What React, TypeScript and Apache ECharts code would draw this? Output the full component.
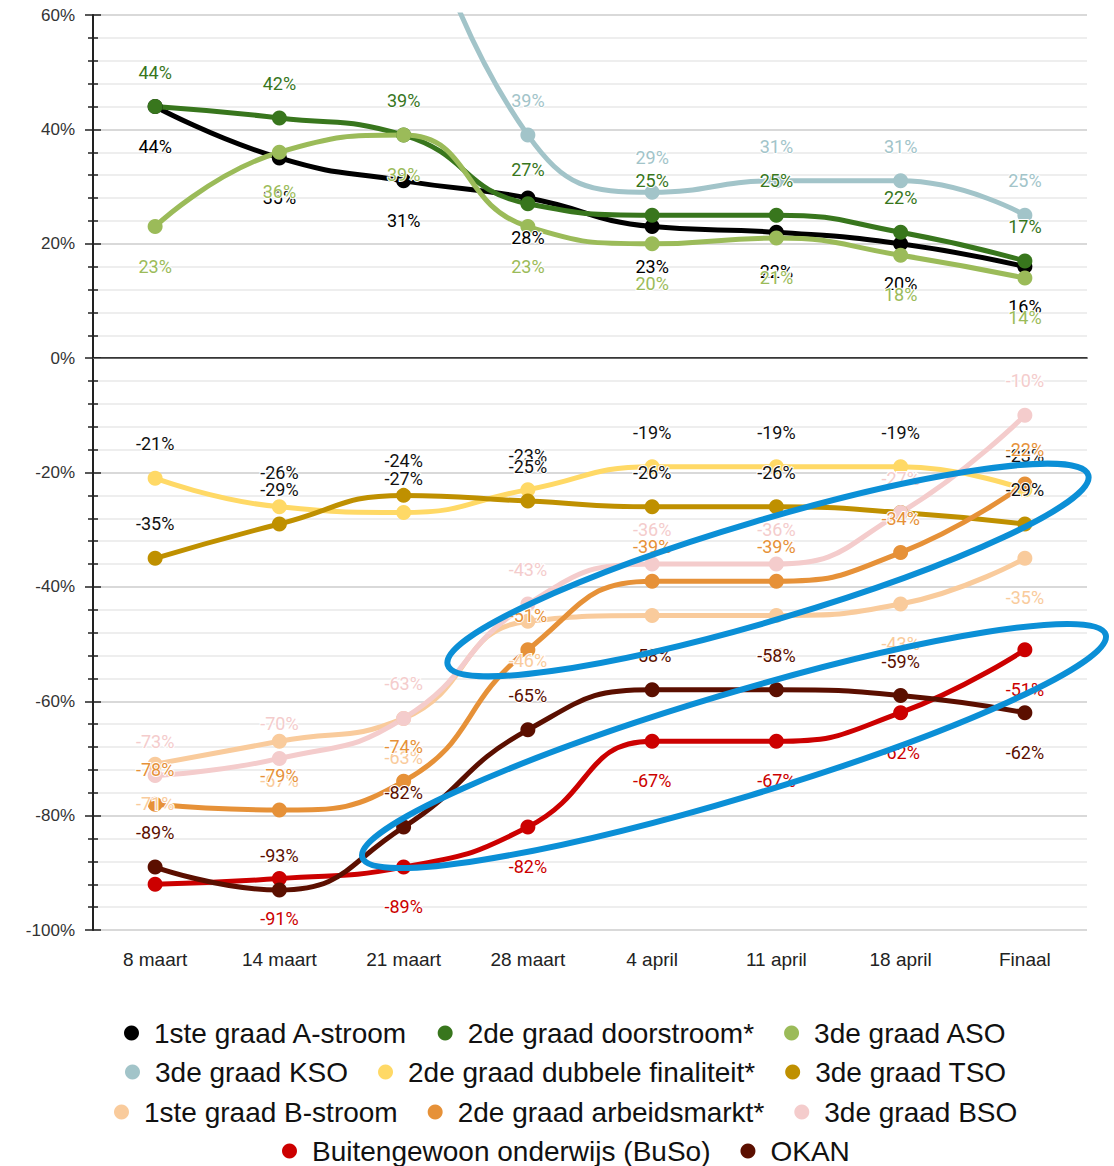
import React, { useEffect, useRef } from "react";
import * as echarts from "echarts";

const categories = ["8 maart", "14 maart", "21 maart", "28 maart", "4 april", "11 april", "18 april", "Finaal"];

const seriesNames = [
  "1ste graad A-stroom",
  "2de graad doorstroom*",
  "3de graad ASO",
  "3de graad KSO",
  "2de graad dubbele finaliteit*",
  "3de graad TSO",
  "1ste graad B-stroom",
  "2de graad arbeidsmarkt*",
  "3de graad BSO",
  "Buitengewoon onderwijs (BuSo)",
  "OKAN",
];

const aStroom = [44, 35, 31, 28, 23, 22, 20, 16];
const doorstroom = [44, 42, 39, 27, 25, 25, 22, 17];
const aso = [23, 36, 39, 23, 20, 21, 18, 14];
const kso = [null, null, 90, 39, 29, 31, 31, 25];
const dubbele = [-21, -26, -27, -23, -19, -19, -19, -23];
const tso = [-35, -29, -24, -25, -26, -26, -27, -29];
const bStroom = [-71, -67, -63, -46, -45, -45, -43, -35];
const arbeidsmarkt = [-78, -79, -74, -51, -39, -39, -34, -22];
const bso = [-73, -70, -63, -43, -36, -36, -27, -10];
const buso = [-92, -91, -89, -82, -67, -67, -62, -51];
const okan = [-89, -93, -82, -65, -58, -58, -59, -62];

const seriesData = [aStroom, doorstroom, aso, kso, dubbele, tso, bStroom, arbeidsmarkt, bso, buso, okan];

const colors = ["#000000", "#38761d", "#9bbb59", "#a2c4c9", "#ffd966", "#bf9000", "#f9cb9c", "#e69138", "#f4cccc", "#cc0000", "#5b0f00"];
const labelColors = ["#000000", "#38761d", "#9bbb59", "#a2c4c9", "#111111", "#111111", "#f9cb9c", "#e69138", "#f4cccc", "#cc0000", "#5b0f00"];
const labelSides = ["bottom", "top", "bottom", "top", "top", "top", "bottom", "top", "top", "bottom", "top"];
// per-point overrides: [seriesIndex, pointIndex, side or "hide"]
const labelOverrides: [number, number, string][] = [
  [10, 7, "bottom"],
  [9, 0, "hide"],
  [3, 2, "hide"],
];

const legendRows = [[0, 1, 2], [3, 4, 5], [6, 7, 8], [9, 10]];
const yTicks = { min: -100, max: 60, interval: 20 };

const LEGEND_FONT = "'Liberation Sans', Arial, sans-serif";
const LEGEND_SIZE = 28;
const ICON = 15;
const TEXT_PAD = 10;
const ITEM_GAP = 30;
const LEGEND_CENTER_X = 566;

function labelFor(side: string) {
  return { position: side, distance: side === "top" ? 17 : 22 };
}

function measureRow(names: string[]) {
  const canvas = document.createElement("canvas");
  const ctx = canvas.getContext("2d");
  if (!ctx) return 0;
  ctx.font = `${LEGEND_SIZE}px ${LEGEND_FONT}`;
  let w = 0;
  names.forEach((n, k) => {
    w += ICON + 5 + TEXT_PAD + ctx.measureText(n).width;
    if (k > 0) w += ITEM_GAP;
  });
  return w;
}

export default function App() {
  const ref = useRef<HTMLDivElement>(null);
  useEffect(() => {
    if (!ref.current) return;
    const chart = echarts.init(ref.current, undefined, { renderer: "svg" });

    const series: any[] = seriesNames.map((name, i) => {
      const data = seriesData[i].map((v, j) => {
        if (v === null) return null;
        const ov = labelOverrides.find((o) => o[0] === i && o[1] === j);
        if (!ov) return v;
        if (ov[2] === "hide") return { value: v, label: { show: false } };
        return { value: v, label: labelFor(ov[2]) };
      });
      const s: any = {
        name,
        type: "line",
        data,
        smooth: 0.5,
        symbol: "circle",
        symbolSize: 15,
        clip: true,
        lineStyle: { width: 5, color: colors[i] },
        itemStyle: { color: colors[i] },
        emphasis: { disabled: true },
        label: {
          show: true,
          ...labelFor(labelSides[i]),
          formatter: (p: any) => `${p.value}%`,
          color: labelColors[i],
          fontFamily: "Roboto",
          fontSize: 18,
          lineHeight: 20,
          textBorderColor: "#ffffff",
          textBorderWidth: 2,
        },
      };
      if (i === 0) {
        s.markLine = {
          silent: true,
          symbol: "none",
          label: { show: false },
          lineStyle: { color: "#666666", width: 1, type: "solid" },
          data: [{ yAxis: 0 }],
        };
      }
      return s;
    });

    const legendTops = [1015, 1054, 1094, 1133];

    chart.setOption({
      animation: false,
      grid: { left: 93, right: 27, top: 15, bottom: 236, containLabel: false },
      xAxis: {
        type: "category",
        data: categories,
        boundaryGap: true,
        axisLine: { lineStyle: { color: "#000", width: 1.5 } },
        axisTick: { alignWithLabel: true, length: 10, lineStyle: { color: "#000", width: 1 } },
        axisLabel: {
          color: "#222",
          fontFamily: "'Liberation Sans', Arial, sans-serif",
          fontSize: 19,
          margin: 20,
          interval: 0,
        },
        splitLine: { show: false },
      },
      yAxis: [
        {
          type: "value",
          min: yTicks.min,
          max: yTicks.max,
          interval: yTicks.interval,
          axisLine: { show: true, lineStyle: { color: "#222", width: 2 } },
          axisTick: { show: true, length: 8, lineStyle: { color: "#222", width: 1.5 } },
          minorTick: { show: true, splitNumber: 5, length: 5, lineStyle: { color: "#222", width: 1.5 } },
          axisLabel: {
            formatter: "{value}%",
            color: "#333",
            fontFamily: "'Liberation Sans', Arial, sans-serif",
            fontSize: 17,
            margin: 18,
          },
          splitLine: { show: true, lineStyle: { color: "#cccccc", width: 1.5 } },
          minorSplitLine: { show: true, lineStyle: { color: "#e8e8e8", width: 1.5 } },
        },
        {
          type: "value",
          position: "left",
          min: yTicks.min,
          max: yTicks.max,
          interval: yTicks.interval,
          axisLine: { show: false },
          axisTick: { show: true, inside: true, length: 8, lineStyle: { color: "#222", width: 1.5 } },
          minorTick: { show: true, splitNumber: 5, length: 5, lineStyle: { color: "#222", width: 1.5 } },
          axisLabel: { show: false },
          splitLine: { show: false },
        },
      ],
      legend: legendRows.map((row, r) => {
        const names = row.map((i) => seriesNames[i]);
        const w = measureRow(names);
        return {
          data: names.map((n) => ({ name: n, icon: "circle" })),
          left: w > 0 ? Math.round(LEGEND_CENTER_X - w / 2) : "center",
          top: legendTops[r],
          orient: "horizontal",
          itemWidth: ICON,
          itemHeight: ICON,
          itemGap: ITEM_GAP,
          padding: 0,
          selectedMode: false,
          textStyle: {
            fontFamily: LEGEND_FONT,
            fontSize: LEGEND_SIZE,
            lineHeight: 36,
            color: "#111",
            padding: [0, 0, 0, TEXT_PAD],
          },
        };
      }),
      graphic: [
        {
          type: "ellipse",
          x: 768,
          y: 570,
          rotation: 0.288,
          shape: { cx: 0, cy: 0, rx: 334, ry: 50 },
          style: { fill: "none", stroke: "#0b8fd6", lineWidth: 6 },
          z: 100,
          silent: true,
        },
        {
          type: "ellipse",
          x: 734,
          y: 746,
          rotation: 0.291,
          shape: { cx: 0, cy: 0, rx: 388, ry: 52 },
          style: { fill: "none", stroke: "#0b8fd6", lineWidth: 6 },
          z: 100,
          silent: true,
        },
      ],
      series,
    });

    return () => chart.dispose();
  }, []);

  return (
    <div
      ref={ref}
      style={{ position: "absolute", left: 0, top: 0, width: 1114, height: 1166, background: "#fff" }}
    />
  );
}
